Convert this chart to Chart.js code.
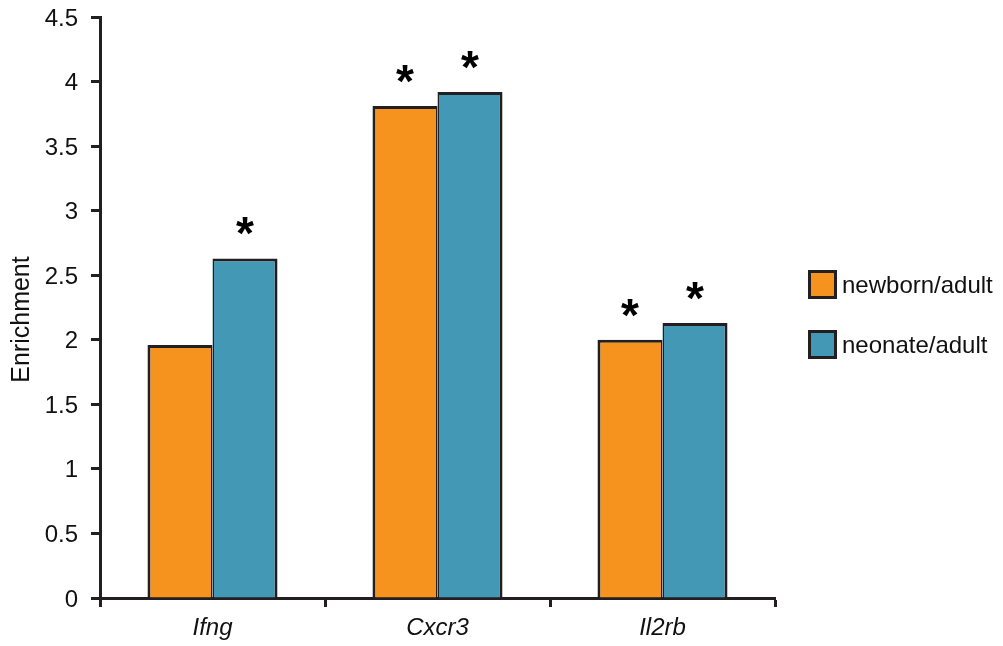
<!DOCTYPE html>
<html>
<head>
<meta charset="utf-8">
<script src="https://cdn.jsdelivr.net/npm/chart.js@4.4.1/dist/chart.umd.min.js"></script>
<style>
  html, body { margin: 0; padding: 0; background: #ffffff; }
  #wrap { width: 1003px; height: 646px; position: relative; }
</style>
</head>
<body>
<div id="wrap"><canvas id="chart" width="1003" height="646"></canvas></div>
<script>
// Gene categories and enrichment ratios
const categories = ['Ifng', 'Cxcr3', 'Il2rb'];
const newbornAdult = [1.96, 3.81, 2.00];
const neonateAdult = [2.63, 3.92, 2.13];
// Significance markers (asterisks) per bar
const newbornSignificant = [false, true, true];
const neonateSignificant = [true, true, true];
const seriesLabels = ['newborn/adult', 'neonate/adult'];
const yAxisTitle = 'Enrichment';

const INK = '#231f20';
const TEXT = '#111111';
const ORANGE = '#f6921e';
const BLUE = '#4398b5';
const FONT = '"Liberation Sans", Arial, Helvetica, sans-serif';

// Asterisks above significant bars
const starPlugin = {
  id: 'stars',
  afterDatasetsDraw(chart) {
    const ctx = chart.ctx;
    const flags = [newbornSignificant, neonateSignificant];
    ctx.save();
    ctx.fillStyle = '#000';
    ctx.font = 'bold 46px ' + FONT;
    ctx.textAlign = 'center';
    ctx.textBaseline = 'alphabetic';
    chart.data.datasets.forEach((ds, di) => {
      const meta = chart.getDatasetMeta(di);
      meta.data.forEach((bar, i) => {
        if (!flags[di][i]) return;
        ctx.fillText('*', bar.x, bar.y - 9);
      });
    });
    ctx.restore();
  }
};

// Axis tick labels, rotated y-axis title and the legend on the right
const textPlugin = {
  id: 'lettering',
  afterDraw(chart) {
    const ctx = chart.ctx;
    const xs = chart.scales.x;
    const ys = chart.scales.y;
    ctx.save();
    ctx.fillStyle = TEXT;
    ctx.textBaseline = 'alphabetic';

    // y tick labels, right-aligned beside the tick marks
    ctx.font = '24px ' + FONT;
    ctx.textAlign = 'right';
    ys.ticks.forEach((t, i) => {
      ctx.fillText(String(t.value), ys.right - 22, ys.getPixelForTick(i) + 8.5);
    });

    // italic gene names under each group
    ctx.font = 'italic 24px ' + FONT;
    ctx.textAlign = 'center';
    xs.ticks.forEach((t, i) => {
      ctx.fillText(categories[t.value], xs.getPixelForTick(i), 635);
    });

    // rotated axis title
    ctx.font = '25px ' + FONT;
    ctx.save();
    ctx.translate(29, (chart.chartArea.top + chart.chartArea.bottom) / 2 + 12);
    ctx.rotate(-Math.PI / 2);
    ctx.textAlign = 'center';
    ctx.fillText(yAxisTitle, 0, 0);
    ctx.restore();

    // legend: bordered swatches with labels
    const colors = [ORANGE, BLUE];
    seriesLabels.forEach((lab, i) => {
      const bx = 808, by = 270 + i * 60, bs = 29;
      ctx.fillStyle = INK;
      ctx.fillRect(bx, by, bs, bs);
      ctx.fillStyle = colors[i];
      ctx.fillRect(bx + 3, by + 3, bs - 6, bs - 6);
      ctx.fillStyle = TEXT;
      ctx.font = '24px ' + FONT;
      ctx.textAlign = 'left';
      ctx.fillText(lab, bx + bs + 5, by + 23);
    });
    ctx.restore();
  }
};

new Chart(document.getElementById('chart'), {
  type: 'bar',
  data: {
    labels: categories,
    datasets: [
      {
        label: seriesLabels[0],
        data: newbornAdult,
        backgroundColor: ORANGE,
        borderColor: INK,
        borderWidth: { top: 3, left: 3, right: 1.5, bottom: 0 },
        borderSkipped: false,
        categoryPercentage: 0.578,
        barPercentage: 1
      },
      {
        label: seriesLabels[1],
        data: neonateAdult,
        backgroundColor: BLUE,
        borderColor: INK,
        borderWidth: { top: 3, left: 1.5, right: 3, bottom: 0 },
        borderSkipped: false,
        categoryPercentage: 0.578,
        barPercentage: 1
      }
    ]
  },
  options: {
    responsive: false,
    animation: false,
    devicePixelRatio: 1,
    layout: { padding: { top: 17, right: 228, left: 0, bottom: 0 } },
    plugins: {
      legend: { display: false },
      tooltip: { enabled: false }
    },
    scales: {
      x: {
        offset: true,
        afterFit(scale) { scale.height = 48; },
        border: { display: true, color: INK, width: 3 },
        grid: {
          offset: true,
          drawOnChartArea: false,
          drawTicks: true,
          tickLength: 9,
          tickColor: INK,
          tickWidth: 3
        },
        ticks: { display: false }
      },
      y: {
        min: 0,
        max: 4.5,
        afterFit(scale) { scale.width = 100; },
        border: { display: true, color: INK, width: 3 },
        grid: {
          drawOnChartArea: false,
          drawTicks: true,
          tickLength: 9,
          tickColor: INK,
          tickWidth: 3
        },
        ticks: { stepSize: 0.5, display: false }
      }
    }
  },
  plugins: [starPlugin, textPlugin]
});
</script>
</body>
</html>
